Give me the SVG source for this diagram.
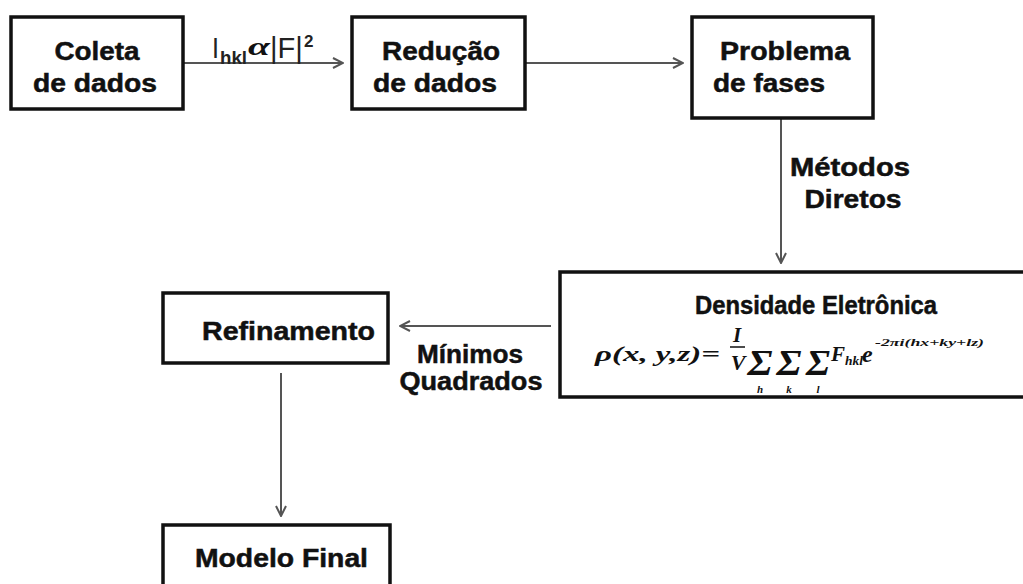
<svg xmlns="http://www.w3.org/2000/svg" width="1023" height="584" viewBox="0 0 1023 584">
<defs>
<style>
.box{fill:#fff;stroke:#111;stroke-width:3.5}
.t{font-family:"Liberation Sans",Arial,sans-serif;font-weight:bold;font-size:25px;fill:#111;stroke:#111;stroke-width:0.5}
.c{text-anchor:middle}
.con{stroke:#555;stroke-width:2;fill:none}
.f{font-family:"Liberation Serif","Times New Roman",serif;font-weight:bold;font-style:italic;fill:#111}
.lbl{font-family:"Liberation Sans",Arial,sans-serif;fill:#222}
</style>
<marker id="arr" viewBox="0 0 12 12" refX="11" refY="6" markerWidth="12" markerHeight="12" markerUnits="userSpaceOnUse" orient="auto">
<path d="M1,1 L11,6 L1,11" fill="none" stroke="#555" stroke-width="2"/>
</marker>
</defs>
<rect width="1023" height="584" fill="#fff"/>

<g id="connectors">
<line class="con" x1="183" y1="63" x2="343" y2="63" marker-end="url(#arr)"/>
<line class="con" x1="525" y1="63" x2="683" y2="63" marker-end="url(#arr)"/>
<line class="con" x1="781" y1="118" x2="781" y2="263" marker-end="url(#arr)"/>
<line class="con" x1="551" y1="326" x2="400" y2="326" marker-end="url(#arr)"/>
<line class="con" x1="281" y1="373" x2="281" y2="516" marker-end="url(#arr)"/>
<g id="edge-labels">
<text class="lbl" x="212" y="58" font-size="30" textLength="7" lengthAdjust="spacingAndGlyphs">I</text>
<text class="lbl" x="220" y="64" font-size="18" font-weight="bold" textLength="27" lengthAdjust="spacingAndGlyphs">hkl</text>
<text class="f" x="248" y="55" font-size="26" font-weight="normal" textLength="22" lengthAdjust="spacingAndGlyphs">α</text>
<text class="lbl" x="270" y="58" font-size="29">|F|</text>
<text class="lbl" x="304" y="47" font-size="17" font-weight="bold">2</text>
<text class="t c" x="850" y="176" textLength="120" lengthAdjust="spacingAndGlyphs">Métodos</text>
<text class="t c" x="853" y="208" textLength="97" lengthAdjust="spacingAndGlyphs">Diretos</text>
<text class="t c" x="470" y="363" textLength="106" lengthAdjust="spacingAndGlyphs">Mínimos</text>
<text class="t c" x="471" y="390" textLength="143" lengthAdjust="spacingAndGlyphs">Quadrados</text>
</g>
</g>

<g id="coleta">
<rect class="box" x="11" y="17" width="172" height="92"/>
<text class="t c" x="97" y="60" textLength="85" lengthAdjust="spacingAndGlyphs">Coleta</text>
<text class="t c" x="95" y="92" textLength="124" lengthAdjust="spacingAndGlyphs">de dados</text>
</g>

<g id="reducao">
<rect class="box" x="352" y="17" width="173" height="92"/>
<text class="t c" x="441" y="60" textLength="118" lengthAdjust="spacingAndGlyphs">Redução</text>
<text class="t c" x="435" y="92" textLength="124" lengthAdjust="spacingAndGlyphs">de dados</text>
</g>

<g id="problema">
<rect class="box" x="692" y="17" width="181" height="101"/>
<text class="t" x="720" y="60" textLength="130" lengthAdjust="spacingAndGlyphs">Problema</text>
<text class="t" x="713" y="92" textLength="112" lengthAdjust="spacingAndGlyphs">de fases</text>
</g>

<g id="densidade">
<rect class="box" x="560" y="272" width="480" height="125"/>
<text class="t c" x="816" y="314" textLength="242" lengthAdjust="spacingAndGlyphs">Densidade Eletrônica</text>
<text class="f" x="595" y="361" font-size="22" textLength="125" lengthAdjust="spacingAndGlyphs">ρ(x, y,z)=</text>
<text class="f" x="737" y="342" font-size="21" text-anchor="middle">I</text>
<line x1="730" y1="347" x2="745" y2="347" stroke="#111" stroke-width="1.5"/>
<text class="f" x="738" y="370" font-size="22" text-anchor="middle">V</text>
<text class="f" x="760" y="375" font-size="36" font-style="normal" text-anchor="middle" textLength="25" lengthAdjust="spacingAndGlyphs">Σ</text>
<text class="f" x="789" y="375" font-size="36" font-style="normal" text-anchor="middle" textLength="25" lengthAdjust="spacingAndGlyphs">Σ</text>
<text class="f" x="818" y="375" font-size="36" font-style="normal" text-anchor="middle" textLength="24" lengthAdjust="spacingAndGlyphs">Σ</text>
<text class="f" x="760" y="393" font-size="11" text-anchor="middle">h</text>
<text class="f" x="789" y="393" font-size="11" text-anchor="middle">k</text>
<text class="f" x="818" y="393" font-size="11" text-anchor="middle">l</text>
<text class="f" x="831" y="361" font-size="21">F</text>
<text class="f" x="845" y="365" font-size="12" textLength="18" lengthAdjust="spacingAndGlyphs">hkl</text>
<text class="f" x="862" y="362" font-size="24">e</text>
<text class="f" x="875" y="346" font-size="11" textLength="109" lengthAdjust="spacingAndGlyphs">-2πi(hx+ky+lz)</text>
</g>

<g id="refinamento">
<rect class="box" x="163" y="293" width="225" height="70"/>
<text class="t" x="202" y="340" textLength="173" lengthAdjust="spacingAndGlyphs">Refinamento</text>
</g>

<g id="modelo">
<rect class="box" x="163" y="525" width="227" height="80"/>
<text class="t" x="195" y="567" textLength="173" lengthAdjust="spacingAndGlyphs">Modelo Final</text>
</g>
</svg>
